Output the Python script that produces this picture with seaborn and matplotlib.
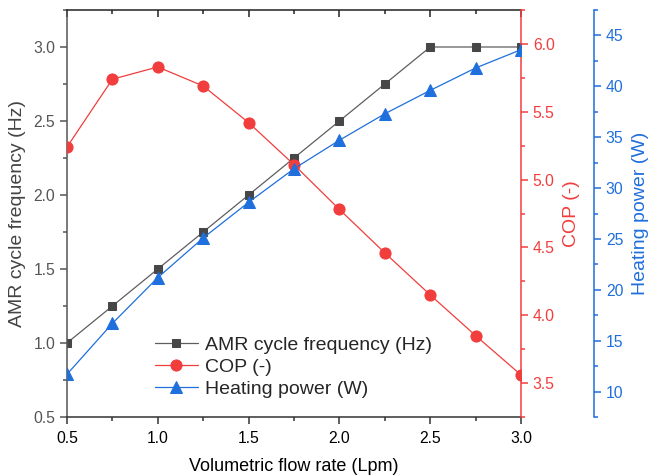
import matplotlib
matplotlib.use("Agg")
import matplotlib.pyplot as plt
import seaborn as sns
import numpy as np
from matplotlib.ticker import MultipleLocator

flow = [0.5, 0.75, 1.0, 1.25, 1.5, 1.75, 2.0, 2.25, 2.5, 2.75, 3.0]
freq = [1.0, 1.25, 1.5, 1.75, 2.0, 2.25, 2.5, 2.75, 3.0, 3.0, 3.0]
cop = [5.24, 5.74, 5.83, 5.69, 5.42, 5.11, 4.78, 4.46, 4.15, 3.85, 3.56]
power = [11.7, 16.7, 21.2, 25.1, 28.6, 31.9, 34.7, 37.3, 39.6, 41.8, 43.6]

lab_freq = "AMR cycle frequency (Hz)"
lab_cop = "COP (-)"
lab_power = "Heating power (W)"
xlab = "Volumetric flow rate (Lpm)"

sns.set_theme(style="ticks")
plt.rcParams['font.family'] = ['Liberation Sans', 'DejaVu Sans']

GRAY_L = "#5e5e5e"
GRAY_M = "#474747"
RED = "#f23d3d"
BLUE = "#1f6fdc"
AXG = "#555555"
TICK_FS = 11.3

fig = plt.figure(figsize=(6.48, 4.76), dpi=100)
ax = fig.add_axes([67/648, 1-417/476, (521-67)/648, (417-10)/476])
ax2 = ax.twinx()
ax3 = ax.twinx()

sns.lineplot(x=flow, y=freq, ax=ax, color=GRAY_L, lw=0.9, marker='s', markersize=6.3,
             markerfacecolor=GRAY_M, markeredgecolor=GRAY_M, label=lab_freq, legend=False)
sns.lineplot(x=flow, y=cop, ax=ax2, color=RED, lw=0.9, marker='o', markersize=8,
             markerfacecolor=RED, markeredgecolor=RED, label=lab_cop, legend=False)
sns.lineplot(x=flow, y=power, ax=ax3, color=BLUE, lw=0.9, marker='^', markersize=8.5,
             markerfacecolor=BLUE, markeredgecolor=BLUE, label=lab_power, legend=False)

ax.set_xlim(0.5, 3.0)
ax.set_ylim(0.5, 3.25)
ax2.set_ylim(3.25, 6.25)
ax3.set_ylim(7.5, 47.5)

ax.xaxis.set_major_locator(MultipleLocator(0.5))
ax.xaxis.set_minor_locator(MultipleLocator(0.25))
ax.yaxis.set_major_locator(MultipleLocator(0.5))
ax.yaxis.set_minor_locator(MultipleLocator(0.25))
ax2.yaxis.set_major_locator(MultipleLocator(0.5))
ax2.yaxis.set_minor_locator(MultipleLocator(0.25))
ax3.yaxis.set_major_locator(MultipleLocator(5))
ax3.yaxis.set_minor_locator(MultipleLocator(2.5))

ax3.spines['right'].set_position(('axes', (594-67)/(521-67)))
for a in (ax2, ax3):
    a.spines['top'].set_visible(False)
    a.spines['left'].set_visible(False)
    a.spines['bottom'].set_visible(False)

ax.spines['left'].set_color(AXG)
ax.spines['bottom'].set_color("#333333")
ax.spines['top'].set_color("#222222")
ax.spines['right'].set_visible(False)
ax2.spines['right'].set_color(RED)
ax3.spines['right'].set_color(BLUE)
for a in (ax, ax2, ax3):
    for sp in a.spines.values():
        sp.set_linewidth(1.1)

ax.tick_params(axis='x', which='major', direction='out', length=5, width=1.1, colors="#333333",
               labelcolor='black', labelsize=TICK_FS, top=True, pad=5)
ax.tick_params(axis='x', which='minor', direction='out', length=3, width=1.1, colors="#333333", top=True)
ax.tick_params(axis='y', which='major', direction='out', length=5, width=1.1, colors=AXG,
               labelcolor=AXG, labelsize=TICK_FS)
ax.tick_params(axis='y', which='minor', direction='out', length=3, width=1.1, colors=AXG)
ax2.tick_params(axis='y', which='major', direction='out', length=5, width=1.1, colors=RED,
                labelcolor=RED, labelsize=TICK_FS)
ax2.tick_params(axis='y', which='minor', direction='out', length=3, width=1.1, colors=RED)
ax3.tick_params(axis='y', which='major', direction='out', length=5, width=1.1, colors=BLUE,
                labelcolor=BLUE, labelsize=TICK_FS)
ax3.tick_params(axis='y', which='minor', direction='out', length=3, width=1.1, colors=BLUE)

# top ticks point inward
for t in ax.xaxis.get_major_ticks() + ax.xaxis.get_minor_ticks():
    t.tick2line.set_marker(3)  # TICKDOWN
    t.tick2line.set_markeredgecolor("#222222")

ax.set_xlabel(xlab, fontsize=13, color='black', labelpad=9)
ax.set_ylabel(lab_freq, fontsize=14, color="#444444", labelpad=5)
ax2.set_ylabel(lab_cop, fontsize=14, color=RED, labelpad=6)
ax3.set_ylabel(lab_power, fontsize=14, color=BLUE, labelpad=6)

handles = ax.get_lines()[:1] + ax2.get_lines()[:1] + ax3.get_lines()[:1]
leg = ax.legend(handles, [lab_freq, lab_cop, lab_power], loc='center left',
                bbox_to_anchor=((155-67)/454, (417-367)/407), frameon=False,
                fontsize=14, handlelength=2.2, handletextpad=0.35, labelspacing=0.22,
                borderpad=0, borderaxespad=0)

fig.savefig("out.png", dpi=100)
